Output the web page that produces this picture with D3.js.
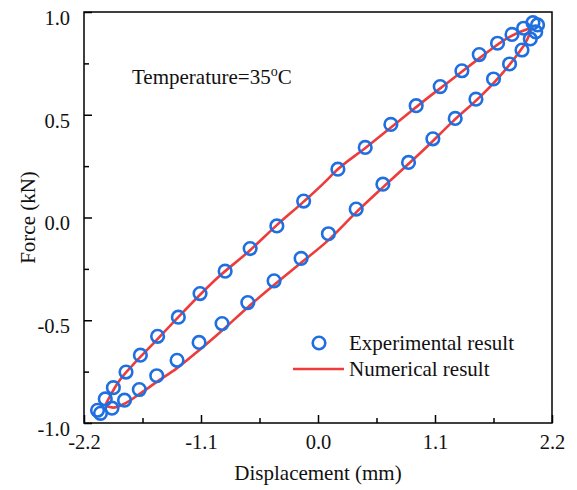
<!DOCTYPE html>
<html>
<head>
<meta charset="utf-8">
<script src="https://cdn.jsdelivr.net/npm/d3@7"></script>
<style>
  body { margin: 0; background: #fff; }
  text { font-family: "Liberation Serif", "Times New Roman", serif; fill: #111; }
</style>
</head>
<body>
<div id="chart"></div>
<script>
// experimental points, upper branch (left to right)
const expUpperX = [-2.073, -2.000, -1.924, -1.805, -1.670, -1.508, -1.313, -1.109, -0.873, -0.638, -0.387, -0.135, 0.187, 0.444, 0.685, 0.923, 1.149, 1.353, 1.516, 1.688, 1.824, 1.933, 2.021, 2.064]
const expUpperY = [-0.938, -0.883, -0.828, -0.752, -0.670, -0.578, -0.485, -0.370, -0.261, -0.151, -0.041, 0.080, 0.235, 0.341, 0.453, 0.544, 0.637, 0.714, 0.793, 0.848, 0.891, 0.921, 0.948, 0.937]
// experimental points, lower branch (right to left)
const expLowerX = [2.047, 1.996, 1.918, 1.801, 1.650, 1.485, 1.290, 1.080, 0.851, 0.610, 0.359, 0.098, -0.159, -0.413, -0.660, -0.902, -1.118, -1.325, -1.516, -1.680, -1.819, -1.937, -2.045]
const expLowerY = [0.903, 0.869, 0.815, 0.747, 0.674, 0.576, 0.482, 0.383, 0.268, 0.162, 0.041, -0.079, -0.199, -0.308, -0.414, -0.516, -0.608, -0.695, -0.770, -0.837, -0.889, -0.928, -0.953]

// numerical curve, upper and lower branch (left to right)
const numUpperX = [-2.002, -1.886, -1.730, -1.579, -1.266, -0.952, -0.638, -0.387, -0.137, 0.083, 0.145, 0.460, 0.773, 1.086, 1.212, 1.525, 1.777, 1.902, 2.012]
const numUpperY = [-0.915, -0.808, -0.711, -0.630, -0.459, -0.297, -0.159, -0.037, 0.076, 0.182, 0.215, 0.344, 0.474, 0.604, 0.653, 0.778, 0.872, 0.904, 0.925]
const numLowerX = [-2.002, -1.924, -1.830, -1.673, -1.516, -1.328, -1.109, -0.952, -0.638, -0.168, 0.098, 0.349, 0.615, 1.024, 1.271, 1.525, 1.745, 1.871, 1.965, 2.012]
const numLowerY = [-0.915, -0.925, -0.909, -0.857, -0.800, -0.734, -0.642, -0.573, -0.427, -0.224, -0.110, 0.020, 0.149, 0.344, 0.469, 0.588, 0.709, 0.791, 0.864, 0.925]

const xTicks = [-2.2, -1.1, 0.0, 1.1, 2.2]
const xMinor = [-1.65, -0.55, 0.55, 1.65]
const yTicks = [-1.0, -0.5, 0.0, 0.5, 1.0]
const yMinor = [-0.75, -0.25, 0.25, 0.75]

const blue = "#1f6fe0"
const red = "#ee3b3b"

const margin = {top: 12, right: 25, bottom: 67, left: 84}
const width = 577 - margin.left - margin.right
const height = 490 - margin.top - margin.bottom

const svg = d3.select("#chart")
  .append("svg")
    .attr("width", 577)
    .attr("height", 490)
  .append("g")
    .attr("transform", "translate(" + margin.left + "," + margin.top + ")")

const x = d3.scaleLinear().domain([-2.2, 2.2]).range([0, width])
const y = d3.scaleLinear().domain([-1, 1]).range([height, 0])

// plain hyphen minus, like the original
const fmt = d => d.toFixed(1)

// frame
svg.append("rect")
  .attr("width", width).attr("height", height)
  .attr("fill", "none").attr("stroke", "#000").attr("stroke-width", 1.5)

// axes, ticks pointing inward
const xAxis = svg.append("g")
  .attr("transform", "translate(0," + height + ")")
  .call(d3.axisBottom(x).tickValues(xTicks).tickSize(-8).tickPadding(11).tickFormat(fmt))
xAxis.append("g").call(d3.axisBottom(x).tickValues(xMinor).tickSize(-5).tickFormat(""))

const yAxis = svg.append("g")
  .call(d3.axisLeft(y).tickValues(yTicks).tickSize(-8).tickPadding(14).tickFormat(fmt))
yAxis.append("g").call(d3.axisLeft(y).tickValues(yMinor).tickSize(-5).tickFormat(""))

svg.selectAll(".domain").remove()
svg.selectAll(".tick line").attr("stroke", "#000").attr("stroke-width", 1.5)
svg.selectAll(".tick text")
  .style("font-family", "'Liberation Serif', serif")
  .style("font-size", "20.5px")
  .attr("fill", "#111")
yAxis.selectAll(".tick text").attr("dy", "0.6em")

// axis titles
svg.append("text")
  .attr("x", width / 2).attr("y", height + 57)
  .attr("text-anchor", "middle")
  .style("font-size", "21px")
  .text("Displacement (mm)")

svg.append("text")
  .attr("transform", "translate(" + (-49) + "," + (height / 2) + ") rotate(-90)")
  .attr("text-anchor", "middle")
  .style("font-size", "21px")
  .text("Force (kN)")

// annotation
const ann = svg.append("text")
  .attr("x", 48).attr("y", 72)
  .style("font-size", "21px")
ann.append("tspan").text("Temperature=35")
ann.append("tspan").attr("dy", -8).style("font-size", "14px").text("o")
ann.append("tspan").attr("dy", 8).text("C")

// numerical curve
const line = d3.line()
  .x(d => x(d[0]))
  .y(d => y(d[1]))
  .curve(d3.curveMonotoneX)

const upper = numUpperX.map((v, i) => [v, numUpperY[i]])
const lower = numLowerX.map((v, i) => [v, numLowerY[i]])
svg.selectAll(".num")
  .data([upper, lower])
  .enter().append("path")
    .attr("class", "num")
    .attr("d", line)
    .attr("fill", "none")
    .attr("stroke", red)
    .attr("stroke-width", 2.6)

// experimental points
const pts = expUpperX.map((v, i) => [v, expUpperY[i]])
  .concat(expLowerX.map((v, i) => [v, expLowerY[i]]))
svg.append("g")
  .selectAll("circle")
  .data(pts)
  .enter().append("circle")
    .attr("cx", d => x(d[0]))
    .attr("cy", d => y(d[1]))
    .attr("r", 6.3)
    .attr("fill", "none")
    .attr("stroke", blue)
    .attr("stroke-width", 2.6)

// legend
const legend = svg.append("g").attr("transform", "translate(209,331)")
legend.append("circle")
  .attr("cx", 26).attr("cy", 0).attr("r", 6.3)
  .attr("fill", "none").attr("stroke", blue).attr("stroke-width", 2.6)
legend.append("text")
  .attr("x", 56).attr("y", 7)
  .style("font-size", "21px")
  .text("Experimental result")
legend.append("line")
  .attr("x1", 0).attr("x2", 51).attr("y1", 26).attr("y2", 26)
  .attr("stroke", red).attr("stroke-width", 2.6)
legend.append("text")
  .attr("x", 56).attr("y", 33)
  .style("font-size", "21px")
  .text("Numerical result")
</script>
</body>
</html>
